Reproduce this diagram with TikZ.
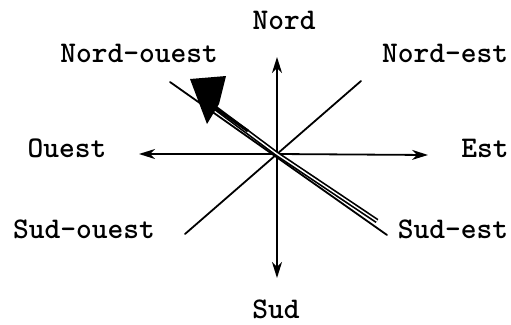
\documentclass[tikz,border=0pt]{standalone}
\usepackage{fontspec}
\usetikzlibrary{arrows.meta}
\begin{document}
\begin{tikzpicture}[x=1pt,y=-1pt,
  lab/.style={font=\ttfamily\bfseries\fontsize{30}{30}\selectfont, inner sep=0pt, anchor=base},
  ray/.style={line width=1.8pt, line cap=round},
  arr/.style={ray, -{Stealth[length=16pt,width=10pt,inset=5pt]}},
  bigarrow/.style={line width=1.7pt, double=white, double distance=1.4pt}]
\useasboundingbox (0,0) rectangle (511,324);
\coordinate (O) at (277,154);
\coordinate (N) at (277,57);
\coordinate (S) at (277,278);
\coordinate (W) at (139,154);
\coordinate (E) at (428,155);
\coordinate (NE) at (361,81);
\coordinate (SW) at (185,234);
\coordinate (NW) at (170,82);
\coordinate (SE) at (387,235);
\coordinate (B1) at (377,221);
\coordinate (B2) at (214,107);
\coordinate (B3) at (248,131);
% labels
\node[lab] (lN)  at (284,29)  {Nord};
\node[lab] (lNW) at (139,62)  {Nord-ouest};
\node[lab] (lNE) at (445,62)  {Nord-est};
\node[lab] (lW)  at (67,157)  {Ouest};
\node[lab] (lE)  at (485,157) {Est};
\node[lab] (lSW) at (84,238)  {Sud-ouest};
\node[lab] (lSE) at (453,238) {Sud-est};
\node[lab] (lS)  at (276,318) {Sud};
% rays
\draw[arr] (O) -- (N);
\draw[arr] (O) -- (S);
\draw[arr] (O) -- (W);
\draw[arr] (O) -- (E);
\draw[ray] (NE) -- (SW);
\draw[ray] (NW) -- (SE);
% big arrow
\draw[bigarrow] (B1) -- (O) -- (B2);
\draw[line width=3pt] (B2) -- (B3);
\fill (190,79) -- (226,76) -- (219,104) -- (207,124) -- cycle;
\end{tikzpicture}
\end{document}
